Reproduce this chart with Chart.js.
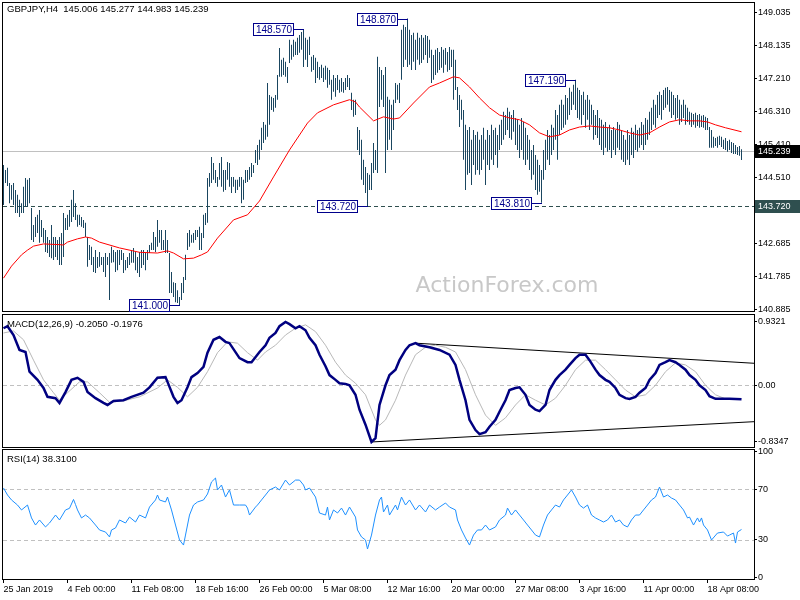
<!DOCTYPE html>
<html><head><meta charset="utf-8">
<script src="https://cdn.jsdelivr.net/npm/chart.js@4.4.1/dist/chart.umd.min.js"></script>
<style>
html,body{margin:0;padding:0;background:#fff;width:800px;height:600px;overflow:hidden;position:relative}
canvas{position:absolute;left:0}
</style></head><body>
<canvas id="cMain" width="800" height="325" style="top:-5px"></canvas>
<canvas id="cMacd" width="800" height="152" style="top:305px"></canvas>
<canvas id="cRsi" width="800" height="160" style="top:440px"></canvas>
<script>
// ---------- data ----------
const SYMBOL = 'GBPJPY,H4';
const LAST_OHLC = [145.006, 145.277, 144.983, 145.239];
const MACD_LAST = ['-0.2050', '-0.1976'];
const RSI_LAST = '38.3100';

const X_TICK_IDX = [0,32,64,96,128,160,192,224,256,288,320,352];
const X_TICK_LABELS = ['25 Jan 2019','4 Feb 00:00','11 Feb 08:00','18 Feb 16:00','26 Feb 00:00','5 Mar 08:00','12 Mar 16:00','20 Mar 00:00','27 Mar 08:00','3 Apr 16:00','11 Apr 00:00','18 Apr 08:00'];

const PRICE_TICKS = [149.035,148.135,147.210,146.310,145.410,144.510,143.585,142.685,141.785,140.885];
const MACD_TICKS = [0.9321, 0, -0.8347];
const MACD_TICK_LABELS = ['0.9321','0.00','-0.8347'];
const RSI_TICKS = [100, 70, 30, 0];
const RSI_TICK_LABELS = ['100','70','30','0'];

const HIGHS = [144.85,144.71,144.77,144.35,144.30,144.35,144.16,144.03,143.89,143.80,
144.25,144.49,144.44,144.49,143.67,143.20,143.42,143.48,143.61,143.34,
143.12,143.06,142.87,142.79,143.20,142.87,142.87,142.79,142.87,142.98,
143.53,143.39,143.48,143.61,143.89,144.16,143.80,143.48,143.48,143.42,
143.34,143.26,142.87,142.65,142.60,142.32,142.51,142.32,142.46,142.32,
142.32,142.43,142.32,142.43,142.60,142.51,142.46,142.51,142.51,142.51,
142.43,142.24,142.32,142.43,142.51,142.57,142.46,142.32,142.46,142.51,
142.51,142.43,142.51,142.65,142.71,143.01,142.87,143.34,143.06,143.06,
142.79,143.06,142.79,142.43,141.91,141.63,141.61,141.41,141.22,141.61,
141.77,142.38,142.98,143.06,142.93,142.98,143.06,143.06,143.15,142.98,
143.48,143.53,144.49,144.63,145.07,144.90,144.71,144.52,144.90,145.07,
144.71,144.71,144.93,144.90,144.52,144.52,144.44,144.44,144.52,144.52,
144.44,144.71,144.71,144.79,144.90,144.85,145.26,145.40,145.54,145.87,
146.03,145.95,147.10,146.77,146.72,146.69,146.77,147.32,148.06,147.74,
147.79,147.68,147.54,148.29,148.15,148.29,148.23,148.34,148.42,148.50,
148.57,148.34,148.29,148.37,147.82,147.87,147.79,147.68,147.54,147.60,
147.52,147.57,147.52,147.46,147.19,147.32,147.24,147.32,147.19,147.24,
147.13,147.24,147.32,147.24,146.83,146.64,146.64,145.89,145.81,145.54,
144.99,144.79,144.63,144.58,144.90,145.45,145.26,147.82,147.54,147.46,
147.32,147.54,146.72,146.64,146.50,146.64,147.10,147.05,147.10,148.56,
148.70,148.64,148.87,148.56,148.42,148.48,148.29,148.48,148.34,148.42,
148.34,148.42,148.39,148.29,148.01,147.87,148.01,148.06,147.95,148.09,
148.01,148.06,147.95,148.09,148.01,148.01,147.74,146.99,146.77,146.64,
146.36,145.95,145.81,145.89,145.54,145.81,145.67,145.76,145.54,145.67,
145.87,145.54,145.81,145.67,145.95,145.81,145.87,145.67,145.95,146.09,
146.31,146.22,146.42,146.31,146.22,146.36,146.14,146.09,145.95,146.14,
146.03,145.87,145.67,145.54,145.26,145.40,145.12,144.99,144.85,144.71,
145.26,145.54,145.81,145.67,145.95,145.87,146.36,146.22,146.50,146.64,
146.50,146.77,146.69,146.97,146.86,147.05,147.19,146.97,146.91,146.77,
146.86,146.64,146.77,146.64,146.50,146.36,146.22,146.36,146.14,146.09,
145.95,146.03,145.87,145.95,145.81,145.89,145.81,146.03,145.95,145.81,
145.67,145.54,145.81,145.67,145.87,145.76,145.95,145.81,145.87,146.03,
145.95,146.14,146.09,146.31,146.42,146.64,146.50,146.77,146.86,146.77,
146.91,146.97,146.99,146.91,146.86,146.77,146.69,146.77,146.64,146.50,
146.64,146.50,146.42,146.31,146.28,146.25,146.28,146.22,146.25,146.20,
146.22,146.17,146.14,145.89,145.81,145.62,145.59,145.62,145.65,145.62,
145.54,145.59,145.51,145.54,145.48,145.45,145.40,145.34,145.37,145.277];

const LOWS = [143.75,144.35,144.27,143.80,143.89,143.75,143.53,143.53,143.42,143.53,
143.53,143.70,143.70,143.80,142.79,142.73,142.87,142.98,142.71,142.87,
142.71,142.46,142.43,142.32,142.29,142.24,142.32,142.24,142.10,142.10,
142.32,143.06,143.06,143.15,143.28,143.42,143.34,143.15,143.20,143.15,
143.12,142.87,142.05,142.24,142.10,141.91,141.88,142.02,142.05,142.10,
141.91,141.77,142.10,141.14,142.16,142.18,141.91,141.96,142.10,142.24,
141.88,141.96,142.02,142.10,142.16,142.16,141.96,141.88,141.77,142.02,
142.10,141.96,142.24,142.43,142.51,142.51,142.46,142.60,142.71,142.51,
142.51,142.43,142.43,141.33,141.33,141.22,141.08,141.06,141.00,141.14,
141.33,141.69,142.51,142.60,142.71,142.71,142.79,142.87,142.51,142.51,
142.84,143.20,143.26,144.25,144.35,144.44,144.35,144.25,144.44,144.25,
144.11,144.16,144.44,144.25,144.08,144.25,144.08,144.16,144.25,143.80,
143.89,144.35,144.38,144.44,144.52,144.63,144.90,144.85,144.99,145.26,
145.45,145.54,145.62,145.95,146.36,146.31,146.42,146.64,147.27,147.27,
147.32,147.27,147.10,147.65,147.74,147.82,147.87,147.87,147.93,148.01,
147.54,147.74,147.54,147.87,147.41,147.46,147.10,147.24,147.19,147.24,
147.13,147.19,146.97,147.05,146.64,146.86,146.72,146.91,146.83,146.86,
146.83,146.91,146.99,146.91,146.36,146.17,146.22,145.26,145.12,144.44,
144.30,144.08,143.72,144.16,144.16,144.63,144.71,144.63,146.44,146.64,
146.44,144.63,145.26,145.54,145.26,145.81,146.55,146.64,146.55,147.19,
147.54,147.74,147.54,147.60,147.46,147.68,147.46,147.74,147.60,147.65,
147.74,147.87,147.65,147.79,147.10,147.19,147.32,147.38,147.46,147.52,
147.38,147.60,147.41,147.46,147.54,146.64,146.91,146.36,145.89,146.09,
144.99,144.16,144.58,144.63,144.30,144.85,144.58,144.71,144.58,144.71,
144.99,144.30,144.85,144.71,144.99,144.85,145.12,144.77,145.26,145.40,
145.54,145.67,145.81,145.59,145.54,145.76,145.40,145.26,145.04,145.26,
144.99,144.85,144.99,144.71,144.44,144.58,144.16,144.03,144.11,143.81,
144.44,144.71,144.99,144.85,145.12,145.26,145.54,144.99,145.67,145.81,
145.87,145.95,146.09,146.22,146.36,146.50,146.36,146.14,146.09,145.95,
146.22,145.87,146.09,145.81,145.95,145.54,145.67,145.59,145.40,145.26,
145.12,145.32,145.21,145.26,145.04,145.26,145.12,145.32,145.26,144.99,
144.93,144.85,144.99,144.85,145.12,145.04,145.26,145.21,145.32,145.40,
145.26,145.40,145.54,145.67,145.81,145.95,145.87,146.14,146.22,146.09,
146.36,146.42,146.50,146.31,146.14,146.22,146.09,146.14,145.95,146.03,
146.14,145.95,146.03,145.95,145.89,145.95,145.87,145.92,145.87,145.89,
145.87,145.81,145.81,145.32,145.32,145.32,145.37,145.32,145.40,145.34,
145.29,145.26,145.21,145.26,145.18,145.15,145.15,145.12,145.10,144.983];

const MA_IDX = [0,4,9,12,15,20,28,30,32,37,41,44,48,58,68,77,82,85,90,95,99,102,107,115,122,128,135,143,152,157,165,173,176,178,185,190,195,198,205,213,218,225,228,233,238,243,248,253,258,263,268,273,278,283,288,293,298,303,308,313,318,323,328,333,338,343,348,352,356,361,369];
const MA_VAL = [141.74,142.07,142.38,142.51,142.62,142.68,142.66,142.65,142.73,142.82,142.87,142.84,142.73,142.57,142.45,142.43,142.49,142.43,142.27,142.29,142.38,142.46,142.84,143.34,143.48,143.86,144.52,145.26,146.00,146.28,146.50,146.64,146.58,146.44,146.06,146.17,146.11,146.14,146.55,146.99,147.10,147.27,147.24,146.99,146.69,146.42,146.22,146.14,146.09,145.95,145.73,145.62,145.67,145.81,145.89,145.92,145.89,145.87,145.81,145.73,145.67,145.73,145.89,146.03,146.09,146.06,146.06,146.03,145.95,145.87,145.76];

const MACD_IDX = [0,2,5,8,11,13,17,20,22,26,28,31,34,37,40,42,46,50,52,55,60,64,70,73,77,81,82,85,87,89,92,94,97,100,102,105,108,111,113,118,122,124,128,131,133,136,138,141,143,146,148,151,153,156,158,161,163,166,168,171,173,176,178,181,184,186,188,191,193,196,198,201,203,206,208,213,218,223,226,228,231,233,236,238,241,243,246,248,251,253,256,258,261,263,266,268,271,273,276,278,281,283,286,288,291,293,296,298,301,303,306,308,311,313,316,318,321,323,326,328,331,333,336,338,341,343,346,348,351,353,356,358,363,369];
const MACD_VAL = [0.84,0.87,0.74,0.52,0.49,0.20,0.08,-0.04,-0.17,-0.19,-0.26,-0.10,0.08,0.11,0.05,-0.10,-0.19,-0.26,-0.29,-0.23,-0.22,-0.17,-0.11,-0.03,0.11,0.12,0.05,-0.17,-0.26,-0.22,-0.03,0.12,0.18,0.27,0.48,0.67,0.71,0.64,0.62,0.40,0.34,0.34,0.49,0.59,0.70,0.77,0.87,0.9321,0.90,0.84,0.87,0.81,0.70,0.59,0.45,0.28,0.15,0.08,0.03,0.02,0.00,-0.14,-0.36,-0.58,-0.8347,-0.78,-0.29,0.00,0.15,0.23,0.37,0.52,0.59,0.62,0.59,0.56,0.52,0.45,0.30,0.08,-0.22,-0.51,-0.66,-0.72,-0.69,-0.61,-0.51,-0.39,-0.22,-0.07,-0.04,-0.03,-0.14,-0.29,-0.36,-0.38,-0.29,-0.07,0.08,0.15,0.23,0.30,0.40,0.45,0.45,0.37,0.23,0.15,0.08,0.05,-0.04,-0.14,-0.19,-0.20,-0.17,-0.11,-0.04,0.08,0.18,0.30,0.34,0.37,0.34,0.30,0.23,0.15,0.08,0.00,-0.07,-0.16,-0.20,-0.20,-0.20,-0.2050];

const SIG_IDX = [0,5,10,15,20,25,28,32,38,42,48,53,60,68,77,82,87,92,97,102,107,112,117,122,127,131,136,141,146,151,156,161,166,171,176,181,186,188,191,196,201,206,211,216,221,226,231,236,241,246,251,256,261,266,271,276,281,286,291,296,301,306,311,316,321,326,331,336,341,346,351,356,361,369];
const SIG_VAL = [0.77,0.80,0.67,0.37,0.08,-0.11,-0.22,-0.11,0.05,0.05,-0.11,-0.25,-0.23,-0.17,-0.04,0.08,-0.03,-0.17,-0.03,0.20,0.48,0.64,0.62,0.48,0.37,0.49,0.59,0.74,0.84,0.89,0.79,0.59,0.34,0.15,0.03,-0.14,-0.51,-0.59,-0.51,-0.22,0.15,0.45,0.56,0.59,0.56,0.49,0.23,-0.14,-0.44,-0.59,-0.48,-0.29,-0.14,-0.22,-0.29,-0.19,0.00,0.23,0.37,0.37,0.23,0.08,-0.07,-0.17,-0.14,0.00,0.20,0.33,0.30,0.20,0.00,-0.14,-0.20,-0.1976];

const TREND_UP_IDX = [206, 375.25];
const TREND_UP_VAL = [0.62, 0.324];
const TREND_DN_IDX = [184, 375.25];
const TREND_DN_VAL = [-0.8347, -0.536];

const RSI_IDX = [0,2,4,7,9,12,14,16,18,21,23,26,28,31,33,35,36,37,39,41,43,46,48,51,53,54,56,58,61,63,66,68,71,73,76,77,78,81,82,84,86,88,90,91,93,95,97,100,102,104,106,107,109,111,113,115,118,121,122,123,126,127,129,131,133,136,138,141,143,146,148,150,151,153,156,157,158,161,162,163,165,167,169,171,173,176,177,179,181,182,184,186,188,189,190,192,193,196,197,199,201,203,206,208,211,213,216,218,221,223,226,227,229,231,233,235,237,239,241,243,246,248,251,252,254,256,258,260,262,264,266,268,270,272,274,276,278,280,282,284,286,288,290,292,294,296,298,300,302,304,306,308,310,312,314,316,318,320,322,324,326,328,330,332,334,336,338,340,342,343,345,347,348,349,350,352,354,357,360,362,363,365,366,367,369];
const RSI_VAL = [71,65.5,61.6,57.6,53.7,57.6,47.4,41.8,45.8,40.3,43.4,49.7,45.8,53.7,55,62,58,53.7,47.4,49.7,47.4,41.8,37.9,36.3,32.4,37.9,39.5,45.8,43.4,48.1,44.2,49.7,47.4,56.0,61.6,65.5,61.6,60.0,63.9,53.7,41.8,30.0,26.0,33.9,49.7,57.6,60.0,61.6,66.3,75.8,78.9,69.5,73.4,63.9,69.5,57.6,57.6,57.6,55.2,49.7,56.0,57.6,61.6,65.5,69.5,71.8,69.5,77.3,73.4,77.3,77.3,73.4,69.5,71.0,63.9,57.6,51.3,49.7,56.0,45.8,53.7,51.3,55.2,49.7,56.0,48.1,37.9,32.4,30.0,22.9,33.9,49.7,61.6,63.9,52.1,57.6,49.7,57.6,53.7,63.9,57.6,61.6,53.7,57.6,52.1,57.6,53.7,56.0,59.2,56.0,53.7,45.8,37.9,31.6,26.0,33.9,37.9,37.9,41.8,37.9,40.3,45.8,49.7,55.2,49.7,53.7,49.7,45.8,41.8,37.9,33.9,32.4,41.8,49.7,53.7,57.6,56.0,61.6,65.5,69.5,63.9,57.6,55.2,57.6,49.7,47.4,45.8,44.2,45.8,49.7,44.2,45.8,41.8,40.3,45.8,49.7,49.7,53.7,57.6,61.6,63.9,71.8,63.9,65.5,63.1,61.6,57.6,53.7,47.4,48.1,41.8,47.4,44.2,47.4,41.8,37.9,30.0,35.5,36.3,33.1,33.9,35.5,27.6,36.3,38.31];

const SWING_IDX = [88, 150, 182, 202, 269, 286];
const SWING_PRICE = [141.000, 148.570, 143.720, 148.870, 143.810, 147.190];
const CURRENT_PRICE = 145.239;
const SUPPORT_PRICE = 143.720;
const RSI_LEVELS = [70, 30];

// ---------- styles / layout ----------
const FONT = 'Liberation Sans';
const X_MIN = -0.75, X_MAX = 375.25;
const BAR_COLOR = '#1a4660';

const pts = (xs, ys) => xs.map((x, k) => ({x, y: ys[k]}));

function yAxis(min, max, ticks, labelFn) {
  return {
    position: 'right', min, max,
    afterBuildTicks: s => { s.ticks = ticks.map(v => ({value: v})); },
    afterFit: s => { s.width = 46; },
    ticks: {autoSkip: false, padding: 1, color: '#000', font: {family: FONT, size: 9}, callback: (v, i) => labelFn(v, i)},
    grid: {drawOnChartArea: false, drawTicks: true, tickLength: 3, color: '#000'},
    border: {display: false}
  };
}
const xHidden = {type: 'linear', min: X_MIN, max: X_MAX, offset: false, display: false};

function decor(cfg) {
  return {
    id: 'decor' + cfg.name,
    beforeDatasetsDraw(chart) {
      const {ctx, chartArea: a} = chart; const y = chart.scales.y;
      ctx.save();
      if (cfg.watermark) {
        ctx.font = '22px "DejaVu Sans"'; ctx.fillStyle = '#c8c8c8';
        ctx.textAlign = 'center'; ctx.textBaseline = 'middle';
        ctx.fillText(cfg.watermark, 507, 286 - cfg.top);
      }
      (cfg.levels || []).forEach(l => {
        const py = Math.round(y.getPixelForValue(l.value)) + 0.5;
        ctx.beginPath(); ctx.setLineDash(l.dash); ctx.strokeStyle = l.color; ctx.lineWidth = 1;
        ctx.moveTo(a.left + 1, py); ctx.lineTo(a.right, py); ctx.stroke();
      });
      ctx.restore();
    },
    afterDraw(chart) {
      const {ctx, chartArea: a} = chart; const x = chart.scales.x, y = chart.scales.y;
      ctx.save();
      ctx.strokeStyle = '#000'; ctx.lineWidth = 1; ctx.setLineDash([]);
      ctx.strokeRect(a.left + 0.5, a.top - 0.5, a.right - a.left, a.bottom - a.top + 1);
      if (cfg.swings) {
        ctx.font = '10px ' + FONT; ctx.textBaseline = 'middle'; ctx.textAlign = 'left';
        SWING_IDX.forEach((idx, k) => {
          const ax = Math.round(x.getPixelForValue(idx)), ay = Math.round(y.getPixelForValue(SWING_PRICE[k])) + 0.5;
          const t = SWING_PRICE[k].toFixed(3);
          const w = Math.round(ctx.measureText(t).width) + 5, h = 13;
          const bx = ax - 10 - w, by = Math.round(ay - h / 2);
          ctx.fillStyle = '#fff'; ctx.fillRect(bx, by, w, h);
          ctx.strokeStyle = '#00008b'; ctx.strokeRect(bx + 0.5, by + 0.5, w - 1, h - 1);
          ctx.beginPath(); ctx.moveTo(bx + w, ay); ctx.lineTo(ax, ay); ctx.stroke();
          ctx.fillStyle = '#00008b'; ctx.fillText(t, bx + 3, by + h / 2 + 0.5);
        });
      }
      (cfg.badges || []).forEach(b => {
        const py = Math.round(y.getPixelForValue(b.value));
        ctx.fillStyle = b.bg; ctx.fillRect(a.right + 1, py - 6, 800 - a.right - 1, 13);
        ctx.fillStyle = '#fff'; ctx.font = '9px ' + FONT; ctx.textBaseline = 'middle'; ctx.textAlign = 'left';
        ctx.fillText(b.value.toFixed(3), a.right + 4, py + 0.5);
      });
      if (cfg.title) {
        ctx.fillStyle = '#000'; ctx.font = '9.5px ' + FONT; ctx.textBaseline = 'middle'; ctx.textAlign = 'left';
        ctx.fillText(cfg.title, 7, cfg.titleY - cfg.top);
      }
      ctx.restore();
    }
  };
}

const common = {responsive: false, animation: false, devicePixelRatio: 1, events: [],
  plugins: {legend: {display: false}, tooltip: {enabled: false}}};

// ---------- main price panel (plot rows 3..311) ----------
new Chart(document.getElementById('cMain'), {
  type: 'bar',
  data: {datasets: [
    {type: 'bar', data: HIGHS.map((h, i) => ({x: i, y: [LOWS[i], h]})), backgroundColor: BAR_COLOR,
     barThickness: 1, borderWidth: 0, inflateAmount: 0, grouped: false, order: 2},
    {type: 'line', data: pts(MA_IDX, MA_VAL), borderColor: '#ff0000', borderWidth: 1, pointRadius: 0, tension: 0, order: 1}
  ]},
  options: Object.assign({}, common, {
    layout: {padding: {left: 2, top: 8, right: 0, bottom: 9}},
    scales: {x: xHidden, y: yAxis(140.838, 149.2966, PRICE_TICKS, v => v.toFixed(3))}
  }),
  plugins: [decor({name: 'main', top: -5, watermark: 'ActionForex.com', swings: true,
    levels: [{value: CURRENT_PRICE, color: '#c0c0c0', dash: []}, {value: SUPPORT_PRICE, color: '#2f4f4f', dash: [4, 3]}],
    badges: [{value: CURRENT_PRICE, bg: '#000'}, {value: SUPPORT_PRICE, bg: '#2f4f4f'}],
    title: SYMBOL + '  ' + LAST_OHLC.map(v => v.toFixed(3)).join(' '), titleY: 9})]
});

// ---------- MACD panel (plot rows 315..447) ----------
new Chart(document.getElementById('cMacd'), {
  type: 'line',
  data: {datasets: [
    {data: pts(TREND_UP_IDX, TREND_UP_VAL), borderColor: '#000', borderWidth: 1, pointRadius: 0, order: 3},
    {data: pts(TREND_DN_IDX, TREND_DN_VAL), borderColor: '#000', borderWidth: 1, pointRadius: 0, order: 3},
    {data: pts(SIG_IDX, SIG_VAL), borderColor: '#b8b8b8', borderWidth: 1, pointRadius: 0, tension: 0, order: 2},
    {data: pts(MACD_IDX, MACD_VAL), borderColor: '#000080', borderWidth: 2.5, pointRadius: 0, tension: 0, order: 1}
  ]},
  options: Object.assign({}, common, {
    layout: {padding: {left: 2, top: 10, right: 0, bottom: 10}},
    scales: {x: xHidden, y: yAxis(-0.909, 1.035, MACD_TICKS, (v, i) => MACD_TICK_LABELS[i])}
  }),
  plugins: [decor({name: 'macd', top: 305, levels: [{value: 0, color: '#c0c0c0', dash: [4, 3]}],
    title: 'MACD(12,26,9) ' + MACD_LAST.join(' '), titleY: 324})]
});

// ---------- RSI panel (plot rows 450..579) ----------
new Chart(document.getElementById('cRsi'), {
  type: 'line',
  data: {datasets: [
    {data: pts(RSI_IDX, RSI_VAL), borderColor: '#1e90ff', borderWidth: 1, pointRadius: 0, tension: 0}
  ]},
  options: Object.assign({}, common, {
    layout: {padding: {left: 2, top: 10, right: 0, bottom: 0}},
    scales: {
      x: {type: 'linear', min: X_MIN, max: X_MAX, offset: false, position: 'bottom',
        afterBuildTicks: s => { s.ticks = X_TICK_IDX.map(v => ({value: v})); },
        afterFit: s => { s.height = 21; },
        ticks: {autoSkip: false, maxRotation: 0, minRotation: 0, align: 'start', padding: 1, color: '#000',
          font: {family: FONT, size: 9}, callback: (v, i) => X_TICK_LABELS[i]},
        grid: {drawOnChartArea: false, drawTicks: true, tickLength: 4, color: '#000'},
        border: {display: false}},
      y: yAxis(-0.79, 101.03, RSI_TICKS, (v, i) => RSI_TICK_LABELS[i])
    }
  }),
  plugins: [decor({name: 'rsi', top: 440, levels: RSI_LEVELS.map(v => ({value: v, color: '#c0c0c0', dash: [4, 3]})),
    title: 'RSI(14) ' + RSI_LAST, titleY: 459})]
});
</script>
</body></html>
